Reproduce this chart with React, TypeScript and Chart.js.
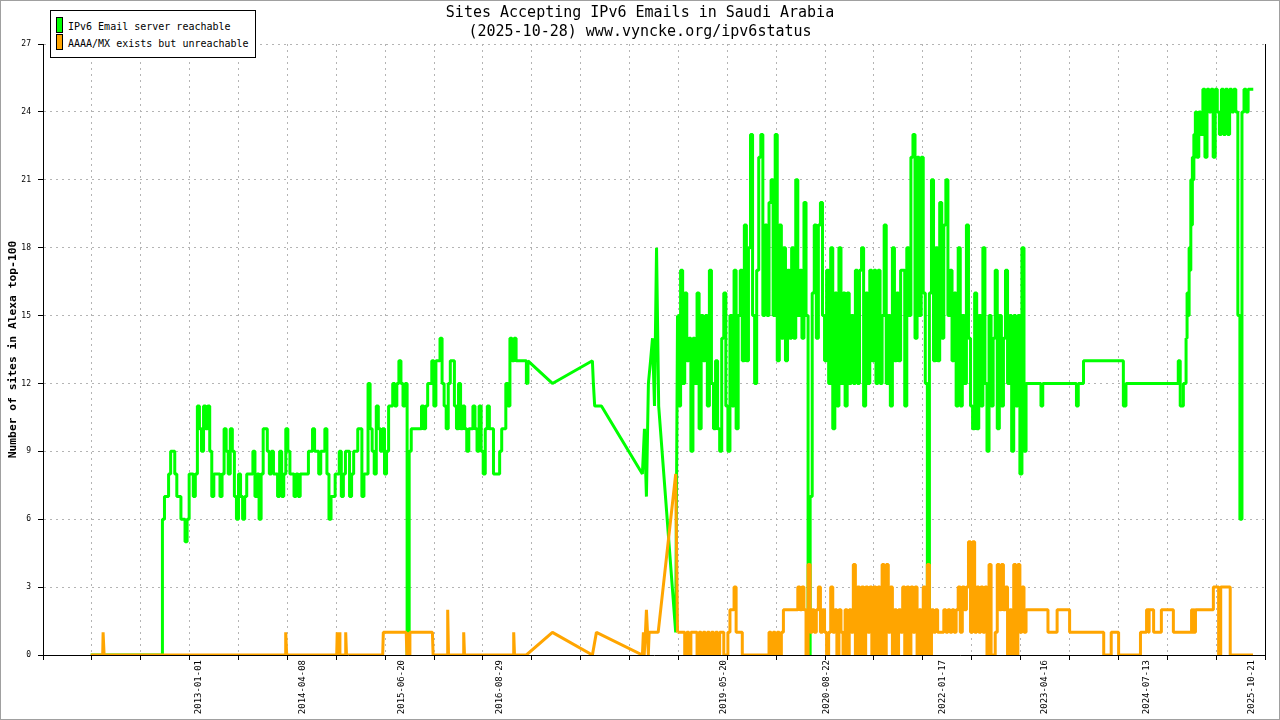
import { useEffect, useRef } from 'react'
import { Chart, registerables } from 'chart.js'

Chart.register(...registerables)

const MONO = '"DejaVu Sans Mono", monospace'
const GRID = '#b4b4b4'

const TITLE = ['Sites Accepting IPv6 Emails in Saudi Arabia', '(2025-10-28) www.vyncke.org/ipv6status']
const Y_TITLE = 'Number of sites in Alexa top-100'
const SERIES_NAMES = ['IPv6 Email server reachable', 'AAAA/MX exists but unreachable']
const SERIES_COLORS = ['#00ff00', '#ffa500']

// x axis in decimal years
const X_MIN = 2011.1106
const X_MAX = 2025.9676
const X_GRID_COUNT = 25
const X_LABEL_DATES = [
  '2013-01-01', '2014-04-08', '2015-06-20', '2016-08-29', '2019-05-20',
  '2020-08-22', '2022-01-17', '2023-04-16', '2024-07-13', '2025-10-21',
]
const Y_MAX = 27
const Y_STEP = 3

// regular sampling step (years) for the dense stretches
const STEP = 0.025

// --- IPv6 Email server reachable ---
const greenLead: [number, number][] = [[2011.6906, 0]]
const green2012Start = 2012.55
const green2012 = [
  0, 6, 7, 7, 8, 9, 9, 8, 7, 7,
  6, 6, 5, 6, 8, 8, 7, 8, 11, 10,
  9, 11, 10, 11, 9, 7, 8, 8, 8, 7,
  8, 10, 9, 8, 10, 9, 7, 6, 8, 7,
  6, 7, 8, 8, 8, 9, 7, 8, 6, 8,
  10, 10, 9, 8, 9, 8, 8, 7, 9, 7,
  8, 10, 9, 8, 8, 7, 8, 7, 8, 8,
  8, 8, 9, 9, 10, 9, 9, 8, 9, 9,
  10, 8, 6, 7, 7, 8, 8, 9, 7, 8,
  9, 9, 7, 8, 9, 9, 10, 10, 7, 8,
  8, 12, 10, 9, 8, 11, 10, 9, 10, 8,
  9, 11, 11, 12, 11, 12, 13, 12, 11, 12,
  0, 9, 10, 10, 10, 10, 10, 11, 10, 11,
  12, 12, 13, 11, 13, 13, 14, 12, 11, 10,
  12, 13, 13, 11, 10, 12, 10, 11, 10, 9,
  10, 10, 11, 10, 9, 11, 9, 8, 10, 11,
  10, 10, 8, 8, 8, 9, 10, 10, 12, 11,
  14, 13, 14, 13, 13, 13, 13, 13, 12,
]
// sparse stretch, drawn with straight joins
const greenGap: [number, number][] = [
  [2017.007, 13], [2017.304, 12], [2017.79, 13], [2017.802, 12], [2017.818, 11],
  [2017.9, 11], [2018.398, 8], [2018.423, 10], [2018.447, 7], [2018.471, 12],
  [2018.497, 13], [2018.521, 14], [2018.545, 11], [2018.57, 18], [2018.596, 11],
  [2018.803, 1],
]
const green2018Start = 2018.825
const green2018 = [
  15, 11, 17, 12, 16, 13, 14, 9, 14, 12,
  16, 10, 15, 13, 15, 11, 17, 12, 10, 13,
  10, 9, 14, 16, 11, 9, 15, 11, 17, 10,
  15, 17, 13, 19, 13, 18, 23, 15, 12, 17,
  22, 23, 15, 19, 15, 20, 21, 15, 23, 13,
  19, 14, 18, 13, 17, 14, 18, 14, 21, 15,
  17, 14, 20, 15, 0, 7, 16, 19, 14, 19,
  20, 15, 13, 17, 12, 18, 10, 16, 11, 18,
  12, 16, 11, 16, 12, 15, 12, 17, 12, 17,
  18, 11, 16, 12, 17, 13, 17, 12, 17, 12,
  15, 19, 12, 15, 11, 18, 13, 16, 13, 17,
  17, 11, 18, 15, 22, 23, 14, 22, 15, 22,
  16, 12, 0, 16, 21, 13, 18, 13, 20, 14,
  19, 21, 15, 17, 13, 16, 11, 18, 11, 15,
  12, 19, 14, 11, 10, 16, 10, 15, 11, 18,
  12, 9, 15, 11, 14, 17, 10, 15, 11, 14,
  17, 12, 15, 9, 15, 11, 15, 8, 18, 9,
  12,
]
const greenFlat: [number, number][] = [
  [2023.2407, 12], [2023.2468, 11], [2023.2626, 11], [2023.2687, 12],
  [2023.6723, 12], [2023.6784, 11], [2023.6942, 11], [2023.7003, 12],
  [2023.755, 12], [2023.7672, 13], [2024.2413, 13], [2024.2498, 11],
  [2024.2681, 11], [2024.2863, 12], [2024.91, 12], [2024.9161, 13],
  [2024.9307, 13], [2024.9429, 11], [2024.9708, 11], [2024.9793, 12],
  [2025.0036, 12], [2025.0122, 14], [2025.028, 16], [2025.0401, 15],
  [2025.0498, 18], [2025.0608, 17], [2025.0705, 21], [2025.0802, 19],
  [2025.0888, 22], [2025.0985, 21], [2025.107, 23], [2025.1167, 22],
]
const green2025Start = 2025.125
const green2025 = [
  24, 22, 24, 23, 25, 22, 25, 24, 25, 22,
  25, 24, 23, 25, 23, 25, 23, 25, 24, 25,
  24, 15, 6, 24, 25, 24, 25, 25, 25,
]

// --- AAAA/MX exists but unreachable ---
const orangeEarly: [number, number][] = [
  [2011.6906, 0], [2011.8365, 0], [2011.8413, 1], [2011.8535, 0],
  [2014.0553, 0], [2014.0614, 1], [2014.0736, 0],
  [2014.6815, 0], [2014.6876, 1], [2014.6961, 0], [2014.7058, 0], [2014.7119, 1], [2014.7204, 0],
  [2014.7848, 0], [2014.7909, 1], [2014.8006, 0],
  [2015.2407, 0], [2015.248, 1], [2015.5264, 1], [2015.535, 0], [2015.5629, 0], [2015.5714, 1],
  [2015.845, 1], [2015.8535, 0],
  [2016.0237, 0], [2016.031, 2], [2016.0407, 0],
  [2016.2182, 0], [2016.2255, 1], [2016.2353, 0],
  [2016.8261, 0], [2016.8334, 1], [2016.8432, 0],
  [2016.9878, 0], [2017.304, 1], [2017.7903, 0], [2017.8389, 1], [2018.3982, 0],
  [2018.41, 1], [2018.42, 0], [2018.435, 1], [2018.447, 2], [2018.46, 1], [2018.47, 0],
  [2018.48, 1], [2018.59, 1], [2018.803, 8],
]
const orange2018Start = 2018.825
const orange2018 = [
  1, 1, 1, 1, 0, 1, 0, 1, 1, 1,
  0, 1, 0, 1, 0, 1, 0, 1, 0, 1,
  0, 1, 1, 0, 0, 1, 2, 2, 3, 1,
  1, 1, 0, 0, 0, 0, 0, 0, 0, 0,
  0, 0, 0, 0, 0, 1, 0, 1, 0, 1,
  0, 1, 2, 2, 2, 2, 2, 2, 2, 3,
  2, 3, 2, 0, 4, 1, 2, 1, 2, 3,
  1, 2, 1, 0, 1, 3, 1, 2, 0, 2,
  1, 0, 2, 0, 2, 1, 4, 0, 3, 0,
  3, 0, 3, 1, 3, 0, 3, 0, 3, 0,
  4, 0, 4, 1, 3, 0, 2, 0, 2, 1,
  3, 0, 3, 0, 3, 1, 3, 0, 2, 0,
  3, 0, 4, 0, 2, 1, 2, 1, 1, 1,
  2, 1, 2, 1, 2, 1, 2, 3, 1, 3,
  2, 3, 5, 1, 5, 1, 3, 1, 3, 1,
  3, 0, 4, 0, 0, 1, 4, 2, 4, 2,
  3, 0, 2, 0, 4, 0, 4, 1, 3, 1,
  2,
]
const orangeTail: [number, number][] = [
  [2023.3259, 2], [2023.3319, 1], [2023.4353, 1], [2023.445, 2], [2023.5872, 2], [2023.597, 1],
  [2023.9982, 1], [2024.0152, 0], [2024.0918, 0], [2024.104, 1], [2024.1805, 1], [2024.1951, 0],
  [2024.4444, 0], [2024.4626, 1], [2024.5234, 1], [2024.5319, 2], [2024.5477, 2], [2024.5538, 1],
  [2024.5635, 2], [2024.6061, 2], [2024.6207, 1], [2024.7033, 1], [2024.7119, 2], [2024.8492, 2],
  [2024.8578, 1], [2025.0705, 1], [2025.079, 2], [2025.0924, 1], [2025.1046, 2], [2025.1131, 1],
  [2025.1313, 2], [2025.3356, 2], [2025.3441, 3], [2025.3964, 3], [2025.4109, 0], [2025.4231, 0],
  [2025.4353, 3], [2025.5386, 3], [2025.5508, 0], [2025.8218, 0],
]

type Pt = { x: number; y: number }
const pairs = (list: [number, number][]): Pt[] => list.map(([x, y]) => ({ x, y }))
const sampled = (start: number, values: number[]): Pt[] => values.map((y, i) => ({ x: start + i * STEP, y }))

const toYear = (s: string) => {
  const [y, m, d] = s.split('-').map(Number)
  const t0 = Date.UTC(y, 0, 1)
  return y + (Date.UTC(y, m - 1, d) - t0) / (Date.UTC(y + 1, 0, 1) - t0)
}

export default function App() {
  const canvasRef = useRef<HTMLCanvasElement>(null)

  useEffect(() => {
    document.body.style.margin = '0'
    if (!canvasRef.current) return

    // dense daily stretches are drawn as steps, sparse stretches as straight joins
    const gA = [...pairs(greenLead), ...sampled(green2012Start, green2012)]
    const gC = [...sampled(green2018Start, green2018), ...pairs(greenFlat), ...sampled(green2025Start, green2025)]
    const gB = [gA[gA.length - 1], ...pairs(greenGap), gC[0]]
    const oB = [...sampled(orange2018Start, orange2018), ...pairs(orangeTail)]
    const oA = [...pairs(orangeEarly), oB[0]]

    const line = (series: number, data: Pt[], stepped: any) => ({
      label: SERIES_NAMES[series],
      data,
      borderColor: SERIES_COLORS[series],
      backgroundColor: SERIES_COLORS[series],
      borderWidth: 3,
      pointRadius: 0,
      tension: 0,
      fill: false,
      stepped,
      order: series === 0 ? 1 : 0,
    })

    const gridStep = (X_MAX - X_MIN) / X_GRID_COUNT
    const xTicks = [
      ...Array.from({ length: X_GRID_COUNT + 1 }, (_, k) => X_MIN + k * gridStep),
      ...X_LABEL_DATES.map(toYear),
    ]

    const frame = {
      id: 'frame',
      beforeDraw: (c: any) => {
        const ctx = c.ctx
        ctx.save()
        ctx.fillStyle = '#fff'
        ctx.fillRect(0, 0, c.width, c.height)
        ctx.restore()
      },
      afterDraw: (c: any) => {
        const ctx = c.ctx
        ctx.save()
        ctx.strokeStyle = '#a0a0a0'
        ctx.lineWidth = 1
        ctx.strokeRect(0.5, 0.5, c.width - 1, c.height - 1)
        ctx.restore()
      },
    }

    const chart = new Chart(canvasRef.current, {
      type: 'line',
      data: {
        datasets: [
          line(0, gA, 'middle'),
          line(0, gB, false),
          line(0, gC, 'middle'),
          line(1, oA, false),
          line(1, oB, 'middle'),
        ],
      },
      options: {
        responsive: false,
        animation: false,
        layout: { padding: 0 },
        elements: { line: { borderJoinStyle: 'bevel' } },
        plugins: {
          legend: { display: false },
          tooltip: { enabled: false },
          title: {
            display: true,
            text: TITLE,
            color: '#000',
            font: { family: MONO, size: 15, weight: 'normal', lineHeight: 19 / 15 },
            padding: { top: 4, bottom: 2 },
          },
        },
        scales: {
          x: {
            type: 'linear',
            min: X_MIN,
            max: X_MAX,
            afterBuildTicks: (scale: any) => { scale.ticks = xTicks.map(value => ({ value })) },
            afterFit: (scale: any) => { scale.height = 65 },
            ticks: {
              autoSkip: false,
              minRotation: 90,
              maxRotation: 90,
              padding: 0,
              color: '#000',
              font: { family: MONO, size: 9 },
              callback: (_v: any, i: number) => (i > X_GRID_COUNT ? X_LABEL_DATES[i - X_GRID_COUNT - 1] : ''),
            },
            grid: {
              color: (ctx: any) => (ctx.index > 0 && ctx.index < X_GRID_COUNT ? GRID : 'rgba(0,0,0,0)'),
              tickColor: (ctx: any) => (ctx.index <= X_GRID_COUNT ? '#000' : 'rgba(0,0,0,0)'),
              tickLength: 5,
            },
            border: { color: '#000', dash: [2, 4] },
          },
          y: {
            min: 0,
            max: Y_MAX,
            afterFit: (scale: any) => { scale.width = 43 },
            ticks: { stepSize: Y_STEP, color: '#000', font: { family: MONO, size: 8 }, padding: 7 },
            grid: {
              color: (ctx: any) => (ctx.index === 0 ? 'rgba(0,0,0,0)' : GRID),
              tickColor: '#000',
              tickLength: 5,
            },
            border: { color: '#000', dash: [2, 4] },
            title: {
              display: true,
              text: Y_TITLE,
              color: '#000',
              font: { family: MONO, size: 11.3, weight: 'bold' },
              padding: { top: 6.5, bottom: 0 },
            },
          },
          y2: {
            position: 'right',
            min: 0,
            max: Y_MAX,
            afterFit: (scale: any) => { scale.width = 15 },
            ticks: { display: false },
            grid: { drawOnChartArea: false, drawTicks: false },
            border: { color: '#000' },
          },
        },
      },
      plugins: [frame],
    } as any)

    return () => chart.destroy()
  }, [])

  return (
    <div style={{ position: 'relative', width: 1280, height: 720, background: '#fff' }}>
      <canvas ref={canvasRef} width={1280} height={720} style={{ display: 'block' }} />
      <div
        style={{
          position: 'absolute', left: 50, top: 10, width: 206, height: 48, boxSizing: 'border-box',
          border: '1px solid #000', background: '#fff', fontFamily: MONO, fontSize: 10, lineHeight: '12px', color: '#000',
        }}
      >
        {SERIES_NAMES.map((name, i) => (
          <div key={name}>
            <span
              style={{
                position: 'absolute', left: 5, top: 6 + i * 17, width: 7, height: 16, boxSizing: 'border-box',
                border: '1px solid #000', background: SERIES_COLORS[i],
              }}
            />
            <span style={{ position: 'absolute', left: 17, top: 9.5 + i * 17, whiteSpace: 'nowrap' }}>{name}</span>
          </div>
        ))}
      </div>
    </div>
  )
}
